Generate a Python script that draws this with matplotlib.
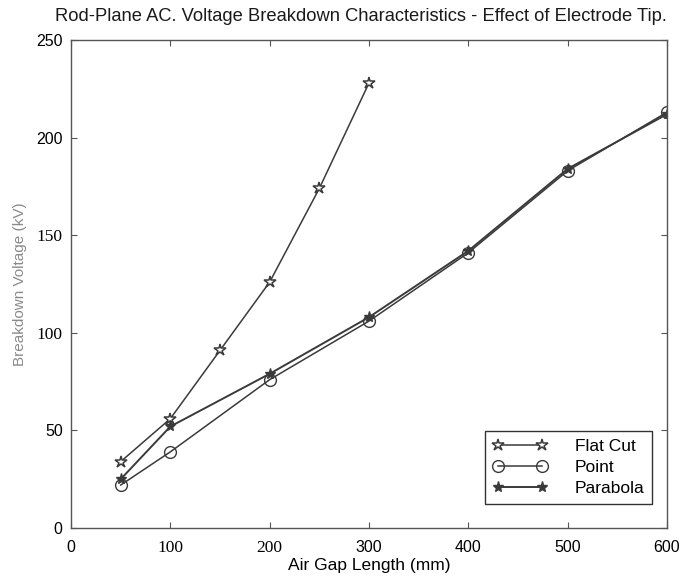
import matplotlib.pyplot as plt

# Пробой воздушного промежутка стержень-плоскость, разные наконечники
gap_flat = [50, 100, 150, 200, 250, 300]
kv_flat = [34, 56, 91, 126, 174, 228]

gap_point = [50, 100, 200, 300, 400, 500, 600]
kv_point = [22, 39, 76, 106, 141, 183, 213]

gap_parab = [50, 100, 200, 300, 400, 500, 600]
kv_parab = [25, 52, 79, 108, 142, 184, 212]

xticks = [0, 100, 200, 300, 400, 500, 600]
yticks = [0, 50, 100, 150, 200, 250]

plt.rcParams['font.family'] = ['Liberation Sans', 'DejaVu Sans']

fig = plt.figure(figsize=(6.81, 5.79), dpi=100)
ax = fig.add_axes([0.1043, 0.0881, 0.8751, 0.8428])

line_c = '#3a3a3a'
ax.plot(gap_flat, kv_flat, color=line_c, lw=1.1, marker='*', ms=9,
        mfc='white', mec=line_c, mew=1.1, label='Flat Cut')
ax.plot(gap_point, kv_point, color=line_c, lw=1.1, marker='o', ms=8.5,
        mfc='none', mec=line_c, mew=1.0, label='Point')
ax.plot(gap_parab, kv_parab, color=line_c, lw=1.4, marker='*', ms=8,
        mfc=line_c, mec=line_c, label='Parabola')

ax.set_xlim(0, 600)
ax.set_ylim(0, 250)
ax.set_xticks(xticks, labels=[str(v) for v in xticks])
ax.set_yticks(yticks, labels=[str(v) for v in yticks])
ax.tick_params(direction='in', top=True, right=True, length=4,
               width=0.8, color='#555555', labelsize=11.5)
ax.tick_params(axis='x', pad=9)
ax.tick_params(axis='y', pad=6)
for s in ax.spines.values():
    s.set_color('#555555')
    s.set_linewidth(1.0)

# часть подписей делений набрана шрифтом с засечками
for lbl in ax.get_xticklabels():
    if lbl.get_text() in ('100', '200'):
        lbl.set_family('Liberation Serif')
        lbl.set_fontsize(12.5)
for lbl in ax.get_yticklabels():
    if lbl.get_text() in ('100', '150'):
        lbl.set_family('Liberation Serif')
        lbl.set_fontsize(12.5)

ax.set_title('Rod-Plane AC. Voltage Breakdown Characteristics - Effect of Electrode Tip.',
             fontsize=13.2, pad=14, x=0.487, color='#1a1a1a')
ax.set_xlabel('Air Gap Length (mm)', fontsize=12.5, labelpad=1)
ax.set_ylabel('Breakdown Voltage (kV)', fontsize=11, color='#8a8a8a', labelpad=6.5)

leg = ax.legend(loc='lower right', bbox_to_anchor=(0.975, 0.049),
                borderaxespad=0, numpoints=2, handlelength=3.1,
                fontsize=12.5, fancybox=False, edgecolor='#333333',
                framealpha=1, borderpad=0.45, labelspacing=0.35,
                handletextpad=1.6)
leg.get_frame().set_linewidth(1.0)

fig.savefig('out.png', dpi=100)
